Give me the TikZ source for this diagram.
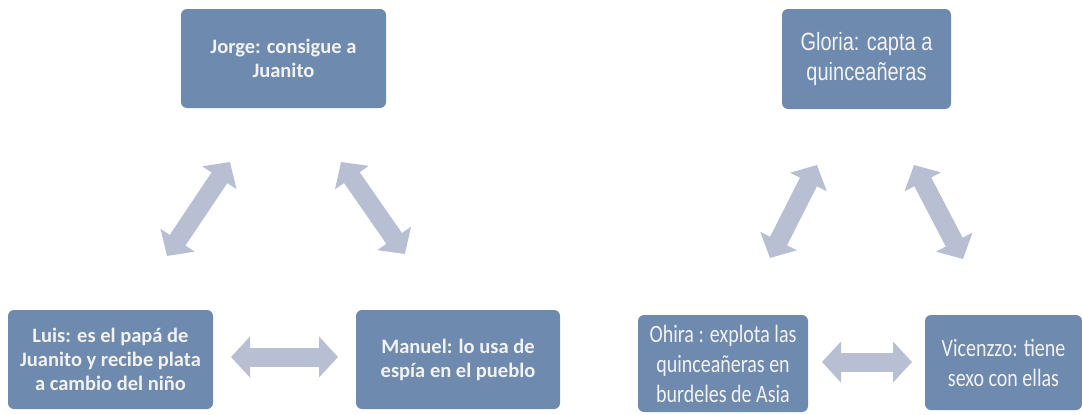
\documentclass[tikz,border=0pt]{standalone}
\usepackage{fontspec}
\setmainfont{Carlito}
\newfontfamily\narrowsans[FakeStretch=0.8]{Liberation Sans}
\newfontfamily\narrowcal[FakeStretch=0.8]{Carlito}
\usetikzlibrary{arrows.meta}
\definecolor{boxfill}{RGB}{110,138,174}
\definecolor{arrowfill}{RGB}{184,191,211}
\definecolor{boxtext}{RGB}{242,242,242}
\tikzset{
  rolebox/.style={fill=boxfill, rounded corners=6pt, text=boxtext, align=center, inner sep=0pt},
  leftfont/.style={font=\bfseries\fontsize{20.5}{24}\selectfont},
  gloriafont/.style={font=\narrowsans\fontsize{25}{30}\selectfont},
  rightfont/.style={font=\narrowcal\fontsize{25}{30}\selectfont},
  dblarrow/.style={draw=arrowfill, line width=19pt,
    {Triangle[length=19pt,width=40pt]}-{Triangle[length=19pt,width=40pt]}}
}
\begin{document}
\begin{tikzpicture}[x=1pt,y=-1pt]
\useasboundingbox (0,0) rectangle (1082,415);
% left group
\node[rolebox, leftfont, minimum width=205pt, minimum height=99pt] (jorge) at (283.5,58.5) {Jorge: consigue a\\Juanito};
\node[rolebox, leftfont, minimum width=205pt, minimum height=99pt] (luis) at (110.5,359.5) {Luis: es el papá de\\Juanito y recibe plata\\a cambio del niño};
\node[rolebox, leftfont, minimum width=204pt, minimum height=99pt] (manuel) at (458,359.5) {Manuel: lo usa de\\espía en el pueblo};
% right group
\node[rolebox, gloriafont, minimum width=169pt, minimum height=100pt] (gloria) at (866.5,59) {Gloria: capta a\\quinceañeras};
\node[rolebox, rightfont, minimum width=170pt, minimum height=97pt] (ohira) at (723,363.5) {Ohira : explota las\\quinceañeras en\\burdeles de Asia};
\node[rolebox, rightfont, minimum width=157pt, minimum height=95pt] (vicenzzo) at (1003.5,362.5) {Vicenzzo: tiene\\sexo con ellas};
% arrow end points
\coordinate (a1s) at (167,256); \coordinate (a1e) at (230,162);
\coordinate (a2s) at (341,162); \coordinate (a2e) at (405,254);
\coordinate (a3s) at (231,357); \coordinate (a3e) at (338,357);
\coordinate (b1s) at (770,258); \coordinate (b1e) at (817,165);
\coordinate (b2s) at (914,165); \coordinate (b2e) at (963,259);
\coordinate (b3s) at (822,362); \coordinate (b3e) at (912,362);
\draw[dblarrow] (a1s) -- (a1e);
\draw[dblarrow] (a2s) -- (a2e);
\draw[dblarrow] (a3s) -- (a3e);
\draw[dblarrow] (b1s) -- (b1e);
\draw[dblarrow] (b2s) -- (b2e);
\draw[dblarrow] (b3s) -- (b3e);
\end{tikzpicture}
\end{document}
